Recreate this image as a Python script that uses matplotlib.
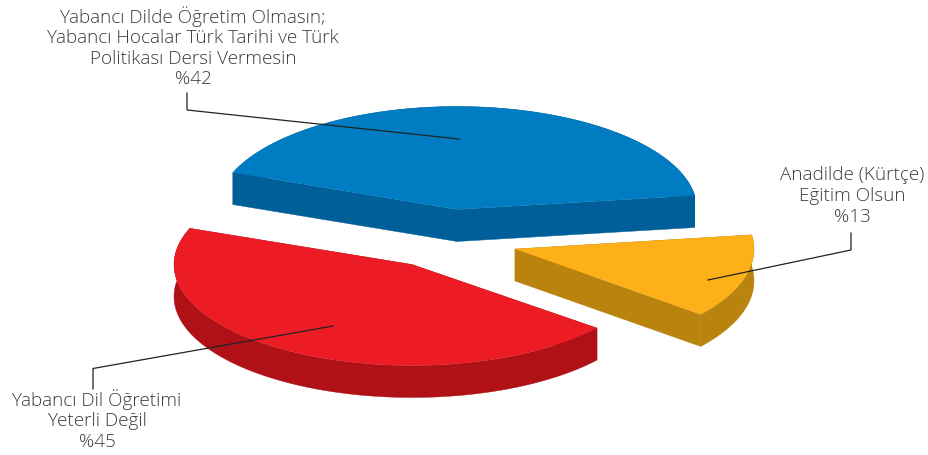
import numpy as np
import matplotlib
matplotlib.use('Agg')
import matplotlib.pyplot as plt

# Chart values
labels = ['Yabancı Dilde Öğretim Olmasın;\nYabancı Hocalar Türk Tarihi ve Türk\nPolitikası Dersi Vermesin\n%42',
          'Yabancı Dil Öğretimi\nYeterli Değil\n%45',
          'Anadilde (Kürtçe)\nEğitim Olsun\n%13']
shares = [42, 45, 13]
top_colors = ['#007CC3', '#ED1C24', '#FDB017']
side_colors = ['#005F99', '#B01116', '#B9830E']

# Layout, in pixels of the 929x456 picture
apex = [(457, 210.5), (412, 265.5), (515, 250)]
radius_x = [240, 238, 239]
radius_y = [103, 101, 104]
label_pos = [(193, 47), (97, 420), (852, 196)]
leaders = [[(187, 94), (187, 111), (459, 140)],
           [(93, 390), (93, 369.5), (333, 327)],
           [(851, 234), (851, 251), (708, 281)]]
depth = 32
start_angle = 7.8

plt.rcParams['font.family'] = ['Open Sans', 'DejaVu Sans']

fig = plt.figure(figsize=(9.29, 4.56), dpi=100)
ax = fig.add_axes([0, 0, 1, 1])
ax.set_xlim(0, 929)
ax.set_ylim(456, 0)
ax.axis('off')

angle = start_angle
for share, (cx, cy), rx, ry, top, side in zip(shares, apex, radius_x, radius_y, top_colors, side_colors):
    sweep = share * 3.6
    theta = np.radians(np.linspace(angle, angle + sweep, 120))
    arc_x = cx + rx * np.cos(theta)
    arc_y = cy - ry * np.sin(theta)
    # Walls: the curved band as one polygon, then the two cut faces
    ax.fill(np.r_[arc_x, arc_x[::-1]], np.r_[arc_y, arc_y[::-1] + depth],
            color=side, lw=0.3, zorder=2)
    for px, py in [(arc_x[0], arc_y[0]), (arc_x[-1], arc_y[-1])]:
        ax.fill([cx, px, px, cx], [cy, py, py + depth, cy + depth],
                color=side, lw=0.3, zorder=2)
    ax.fill(np.r_[cx, arc_x], np.r_[cy, arc_y], color=top, lw=0, zorder=3)
    angle += sweep

for label, (tx, ty) in zip(labels, label_pos):
    ax.text(tx, ty, label, ha='center', va='center', fontsize=13.6,
            color='#3C3C3E', linespacing=1.18, fontweight='light')

for line in leaders:
    ax.plot([p[0] for p in line], [p[1] for p in line], color='#222222', lw=0.9,
            solid_joinstyle='miter', zorder=4)

fig.savefig('out.png', dpi=100)
